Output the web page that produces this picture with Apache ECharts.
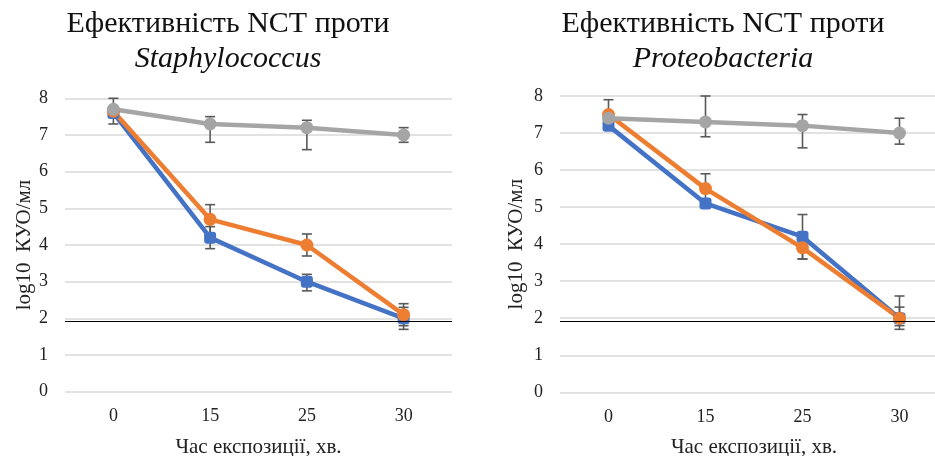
<!DOCTYPE html>
<html>
<head>
<meta charset="utf-8">
<script src="https://cdn.jsdelivr.net/npm/echarts@6/dist/echarts.min.js"></script>
<style>
html,body{margin:0;padding:0;background:#fff;}
#c{width:935px;height:456px;}
</style>
</head>
<body>
<div id="c"></div>
<script>
// ---- data ----
const categories = ['0', '15', '25', '30'];
const yTicks = [0, 1, 2, 3, 4, 5, 6, 7, 8];
const detectionLimit = 1.93;

const staphBlue   = [7.6, 4.2, 3.0, 2.0];
const staphOrange = [7.65, 4.7, 4.0, 2.1];
const staphGray   = [7.7, 7.3, 7.2, 7.0];
const staphBlueErr   = [[null, null], [3.9, 4.5], [2.75, 3.2], [1.7, 2.3]];
const staphOrangeErr = [[null, null], [4.3, 5.1], [3.7, 4.3], [1.8, 2.4]];
const staphGrayErr   = [[7.3, 8.0], [6.8, 7.5], [6.6, 7.4], [6.8, 7.2]];

const proteoBlue   = [7.2, 5.1, 4.2, 2.0];
const proteoOrange = [7.5, 5.5, 3.9, 2.0];
const proteoGray   = [7.4, 7.3, 7.2, 7.0];
const proteoBlueErr   = [[null, null], [null, null], [3.6, 4.8], [1.7, 2.3]];
const proteoOrangeErr = [[7.1, 7.9], [5.1, 5.9], [3.6, 4.2], [1.8, 2.6]];
const proteoGrayErr   = [[null, null], [6.9, 8.0], [6.6, 7.5], [6.7, 7.4]];

const titleLine1 = 'Ефективність NCT проти';
const titleStaph = 'Staphylococcus';
const titleProteo = 'Proteobacteria';
const xName = 'Час експозиції, хв.';
const yName = 'log10  КУО/мл';

// ---- styling ----
const BLUE = '#4472C4', ORANGE = '#ED7D31', GRAY = '#A5A5A5', ERR = '#595959';
const FONT = '"Liberation Serif", "Times New Roman", serif';
const TXT = '#222';

function errSeries(idx, errs) {
  const data = errs.map((e, i) => [i, e[0], e[1]]).filter(d => d[1] != null);
  return {
    type: 'custom', xAxisIndex: idx, yAxisIndex: idx, z: 1, silent: true,
    data: data,
    encode: { x: 0, y: [1, 2] },
    renderItem: function (params, api) {
      const lo = api.coord([api.value(0), api.value(1)]);
      const hi = api.coord([api.value(0), api.value(2)]);
      const w = 5;
      const st = { stroke: ERR, lineWidth: 1.6 };
      return {
        type: 'group',
        children: [
          { type: 'line', shape: { x1: lo[0], y1: lo[1], x2: hi[0], y2: hi[1] }, style: st },
          { type: 'line', shape: { x1: lo[0] - w, y1: lo[1], x2: lo[0] + w, y2: lo[1] }, style: st },
          { type: 'line', shape: { x1: hi[0] - w, y1: hi[1], x2: hi[0] + w, y2: hi[1] }, style: st }
        ]
      };
    }
  };
}

function lineSeries(idx, data, color, symbol, extra) {
  return Object.assign({
    type: 'line', xAxisIndex: idx, yAxisIndex: idx, z: 3,
    data: data, symbol: symbol, symbolSize: symbol === 'circle' ? 13 : 12,
    showAllSymbol: true,
    lineStyle: { color: color, width: 4.5 },
    itemStyle: { color: color, borderWidth: 0 },
    emphasis: { disabled: true }, animation: false
  }, extra || {});
}

function limitLine() {
  return {
    silent: true, symbol: 'none', label: { show: false },
    lineStyle: { color: '#000', width: 1.2, type: 'solid' },
    data: [{ yAxis: detectionLimit }]
  };
}

function xAxis(idx) {
  return {
    type: 'category', gridIndex: idx, data: categories, boundaryGap: true,
    axisLine: { show: false }, axisTick: { show: false },
    axisLabel: { color: TXT, fontFamily: FONT, fontSize: 18, margin: 16 },
    name: xName, nameLocation: 'middle', nameGap: 45,
    nameTextStyle: { color: TXT, fontFamily: FONT, fontSize: 21 }
  };
}
function yAxis(idx, gap) {
  return {
    type: 'value', gridIndex: idx, min: yTicks[0], max: yTicks[yTicks.length - 1], interval: 1,
    axisLine: { show: false }, axisTick: { show: false },
    axisLabel: { color: TXT, fontFamily: FONT, fontSize: 18, margin: 17 },
    splitLine: { lineStyle: { color: '#d9d9d9', width: 1.5 } },
    name: yName, nameLocation: 'middle', nameRotate: 90, nameGap: gap,
    nameTextStyle: { color: TXT, fontFamily: FONT, fontSize: 21 }
  };
}

function titleOpt(x, second) {
  return {
    text: '{a|' + titleLine1 + '}\n{b|' + second + '}',
    left: x, top: 2, textAlign: 'center',
    textStyle: {
      fontWeight: 'normal',
      rich: {
        a: { fontFamily: FONT, fontSize: 30, fontWeight: 'normal', color: '#111', lineHeight: 35, align: 'center' },
        b: { fontFamily: FONT, fontSize: 30, fontWeight: 'normal', fontStyle: 'italic', color: '#111', lineHeight: 35, align: 'center' }
      }
    }
  };
}

const chart = echarts.init(document.getElementById('c'), null, { renderer: 'canvas' });
chart.setOption({
  backgroundColor: '#fff',
  animation: false,
  title: [titleOpt(223, titleStaph), titleOpt(718, titleProteo)],
  grid: [
    { left: 65, top: 98.3, width: 387, height: 293.4, containLabel: false, outerBoundsMode: 'none' },
    { left: 560, top: 96, width: 388, height: 296.3, containLabel: false, outerBoundsMode: 'none' }
  ],
  xAxis: [xAxis(0), xAxis(1)],
  yAxis: [yAxis(0, 30), yAxis(1, 33)],
  series: [
    errSeries(0, staphBlueErr), errSeries(0, staphOrangeErr), errSeries(0, staphGrayErr),
    lineSeries(0, staphBlue, BLUE, 'roundRect', { markLine: limitLine() }),
    lineSeries(0, staphOrange, ORANGE, 'circle'),
    lineSeries(0, staphGray, GRAY, 'circle'),
    errSeries(1, proteoBlueErr), errSeries(1, proteoOrangeErr), errSeries(1, proteoGrayErr),
    lineSeries(1, proteoBlue, BLUE, 'roundRect', { markLine: limitLine() }),
    lineSeries(1, proteoOrange, ORANGE, 'circle'),
    lineSeries(1, proteoGray, GRAY, 'circle')
  ]
});
</script>
</body>
</html>
